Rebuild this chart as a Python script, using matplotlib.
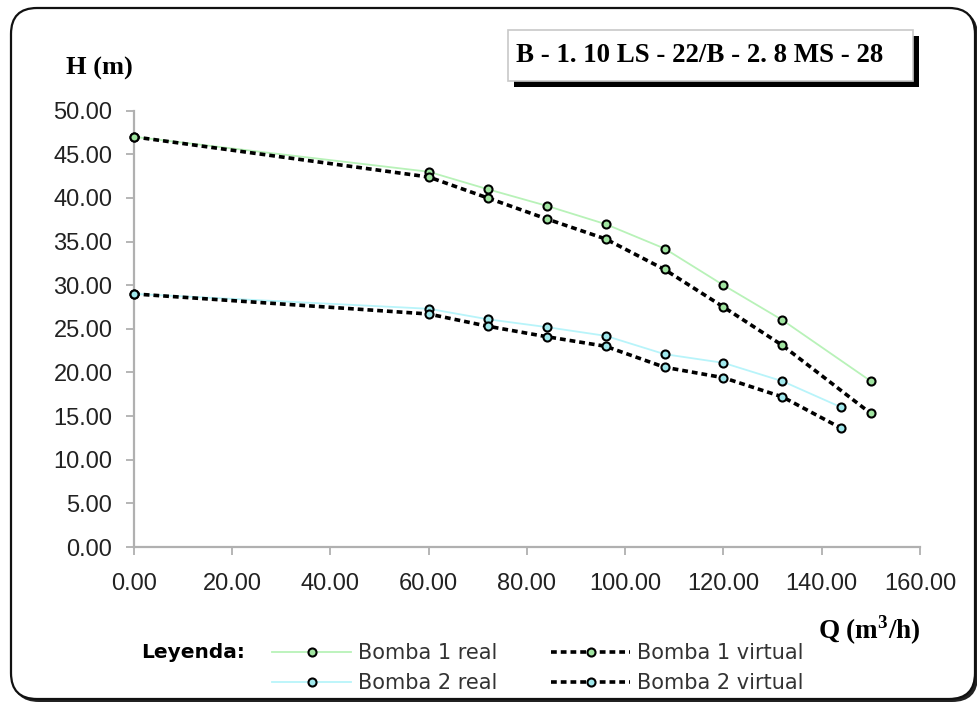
import matplotlib
matplotlib.use('Agg')
import matplotlib.pyplot as plt
from matplotlib.patches import FancyBboxPatch, Rectangle
from matplotlib.transforms import IdentityTransform
from matplotlib.ticker import FormatStrFormatter, MultipleLocator

# ---- datos ----
q_b1 = [0, 60, 72, 84, 96, 108, 120, 132, 150]
h_b1_real = [47.0, 43.0, 41.0, 39.1, 37.0, 34.2, 30.0, 26.0, 19.0]
h_b1_virt = [47.0, 42.4, 40.0, 37.6, 35.3, 31.8, 27.5, 23.1, 15.3]

q_b2 = [0, 60, 72, 84, 96, 108, 120, 132, 144]
h_b2_real = [29.0, 27.3, 26.1, 25.2, 24.2, 22.1, 21.1, 19.0, 16.0]
h_b2_virt = [29.0, 26.7, 25.3, 24.1, 23.0, 20.6, 19.4, 17.2, 13.6]

titulo = "B - 1. 10 LS - 22/B - 2. 8 MS - 28"

C_G_LINE = '#b8f2b8'
C_G_FACE = '#a0e4a0'
C_C_LINE = '#b8f4fa'
C_C_FACE = '#a0e8ec'
C_AXIS = '#b0b0b0'
SERIF = 'Liberation Serif'
SANS = 'Liberation Sans'

plt.rcParams['mathtext.fontset'] = 'custom'
plt.rcParams['mathtext.rm'] = 'Liberation Serif:bold'
plt.rcParams['mathtext.bf'] = 'Liberation Serif:bold'

fig = plt.figure(figsize=(9.78, 7.04), dpi=100)
fig.patch.set_facecolor('white')

# marco exterior redondeado (detras de los ejes)
ident = IdentityTransform()
shadow = FancyBboxPatch((13, 2), 965, 692, boxstyle="round,pad=0,rounding_size=26",
                        transform=ident, facecolor='#222222', edgecolor='none', zorder=-3)
frame = FancyBboxPatch((11, 5), 964, 691, boxstyle="round,pad=0,rounding_size=26",
                       transform=ident, facecolor='white', edgecolor='#111111',
                       linewidth=1.6, zorder=-2)
fig.add_artist(shadow)
fig.add_artist(frame)

ax = fig.add_axes([0.137, 0.223, 0.8037, 0.6198])
ax.set_facecolor('none')

dot = (0, (1.6, 1.1))
mk = dict(marker='o', markersize=5.8, markeredgecolor='black', markeredgewidth=1.5, clip_on=False)

l1r, = ax.plot(q_b1, h_b1_real, color=C_G_LINE, linewidth=1.3, markerfacecolor=C_G_FACE,
               label='Bomba 1 real', zorder=3, **mk)
l2r, = ax.plot(q_b2, h_b2_real, color=C_C_LINE, linewidth=1.3, markerfacecolor=C_C_FACE,
               label='Bomba 2 real', zorder=3, **mk)
l1v, = ax.plot(q_b1, h_b1_virt, color='black', linewidth=2.6, linestyle=dot,
               dash_capstyle='butt', markerfacecolor=C_G_FACE, label='Bomba 1 virtual',
               zorder=4, **mk)
l2v, = ax.plot(q_b2, h_b2_virt, color='black', linewidth=2.6, linestyle=dot,
               dash_capstyle='butt', markerfacecolor=C_C_FACE, label='Bomba 2 virtual',
               zorder=4, **mk)

ax.set_xlim(0, 160)
ax.set_ylim(0, 50)
ax.xaxis.set_major_locator(MultipleLocator(20))
ax.yaxis.set_major_locator(MultipleLocator(5))
ax.xaxis.set_major_formatter(FormatStrFormatter('%.2f'))
ax.yaxis.set_major_formatter(FormatStrFormatter('%.2f'))
for sp in ['top', 'right']:
    ax.spines[sp].set_visible(False)
for sp in ['bottom', 'left']:
    ax.spines[sp].set_color(C_AXIS)
    ax.spines[sp].set_linewidth(1.6)
ax.tick_params(axis='both', direction='out', length=5.5, width=1.3, color=C_AXIS,
               labelcolor='#222222', labelsize=17)
ax.tick_params(axis='y', pad=10)
ax.tick_params(axis='x', pad=13)
for t in ax.get_xticklabels() + ax.get_yticklabels():
    t.set_fontfamily(SANS)

# etiquetas de ejes
fig.text(0.136, 1 - 68 / 704, 'H (m)', ha='right', va='center', fontsize=19,
         fontweight='bold', family=SERIF)
fig.text(0.9417, 1 - 630 / 704, r'Q (m$^{3}$/h)', ha='right', va='center', fontsize=19.5,
         fontweight='bold', family=SERIF)

# cuadro del titulo con sombra
fig.add_artist(Rectangle((514, 617), 405, 51, transform=ident, facecolor='black',
                         edgecolor='none', zorder=2))
fig.add_artist(Rectangle((508, 623), 405, 51, transform=ident, facecolor='white',
                         edgecolor='#c8c8c8', linewidth=1.2, zorder=3))
fig.text(516 / 978, 1 - 56 / 704, titulo, ha='left', va='center', fontsize=19.4,
         fontweight='bold', family=SERIF, zorder=4)

# leyenda
fig.text(141 / 978, 1 - 652 / 704, 'Leyenda:', ha='left', va='center', fontsize=14.5,
         fontweight='bold', family='DejaVu Sans')
leg_kw = dict(loc='upper left', frameon=False, borderpad=0, borderaxespad=0,
              handlelength=3.8, handletextpad=0.35, labelspacing=0.5,
              prop={'family': 'DejaVu Sans', 'size': 15})
leg1 = fig.legend(handles=[l1r, l2r], bbox_to_anchor=(272 / 978, 1 - 643 / 704), **leg_kw)
leg2 = fig.legend(handles=[l1v, l2v], bbox_to_anchor=(551 / 978, 1 - 643 / 704), **leg_kw)
for leg in (leg1, leg2):
    for t in leg.get_texts():
        t.set_color('#333333')

fig.savefig('out.png', dpi=100, facecolor='white')
